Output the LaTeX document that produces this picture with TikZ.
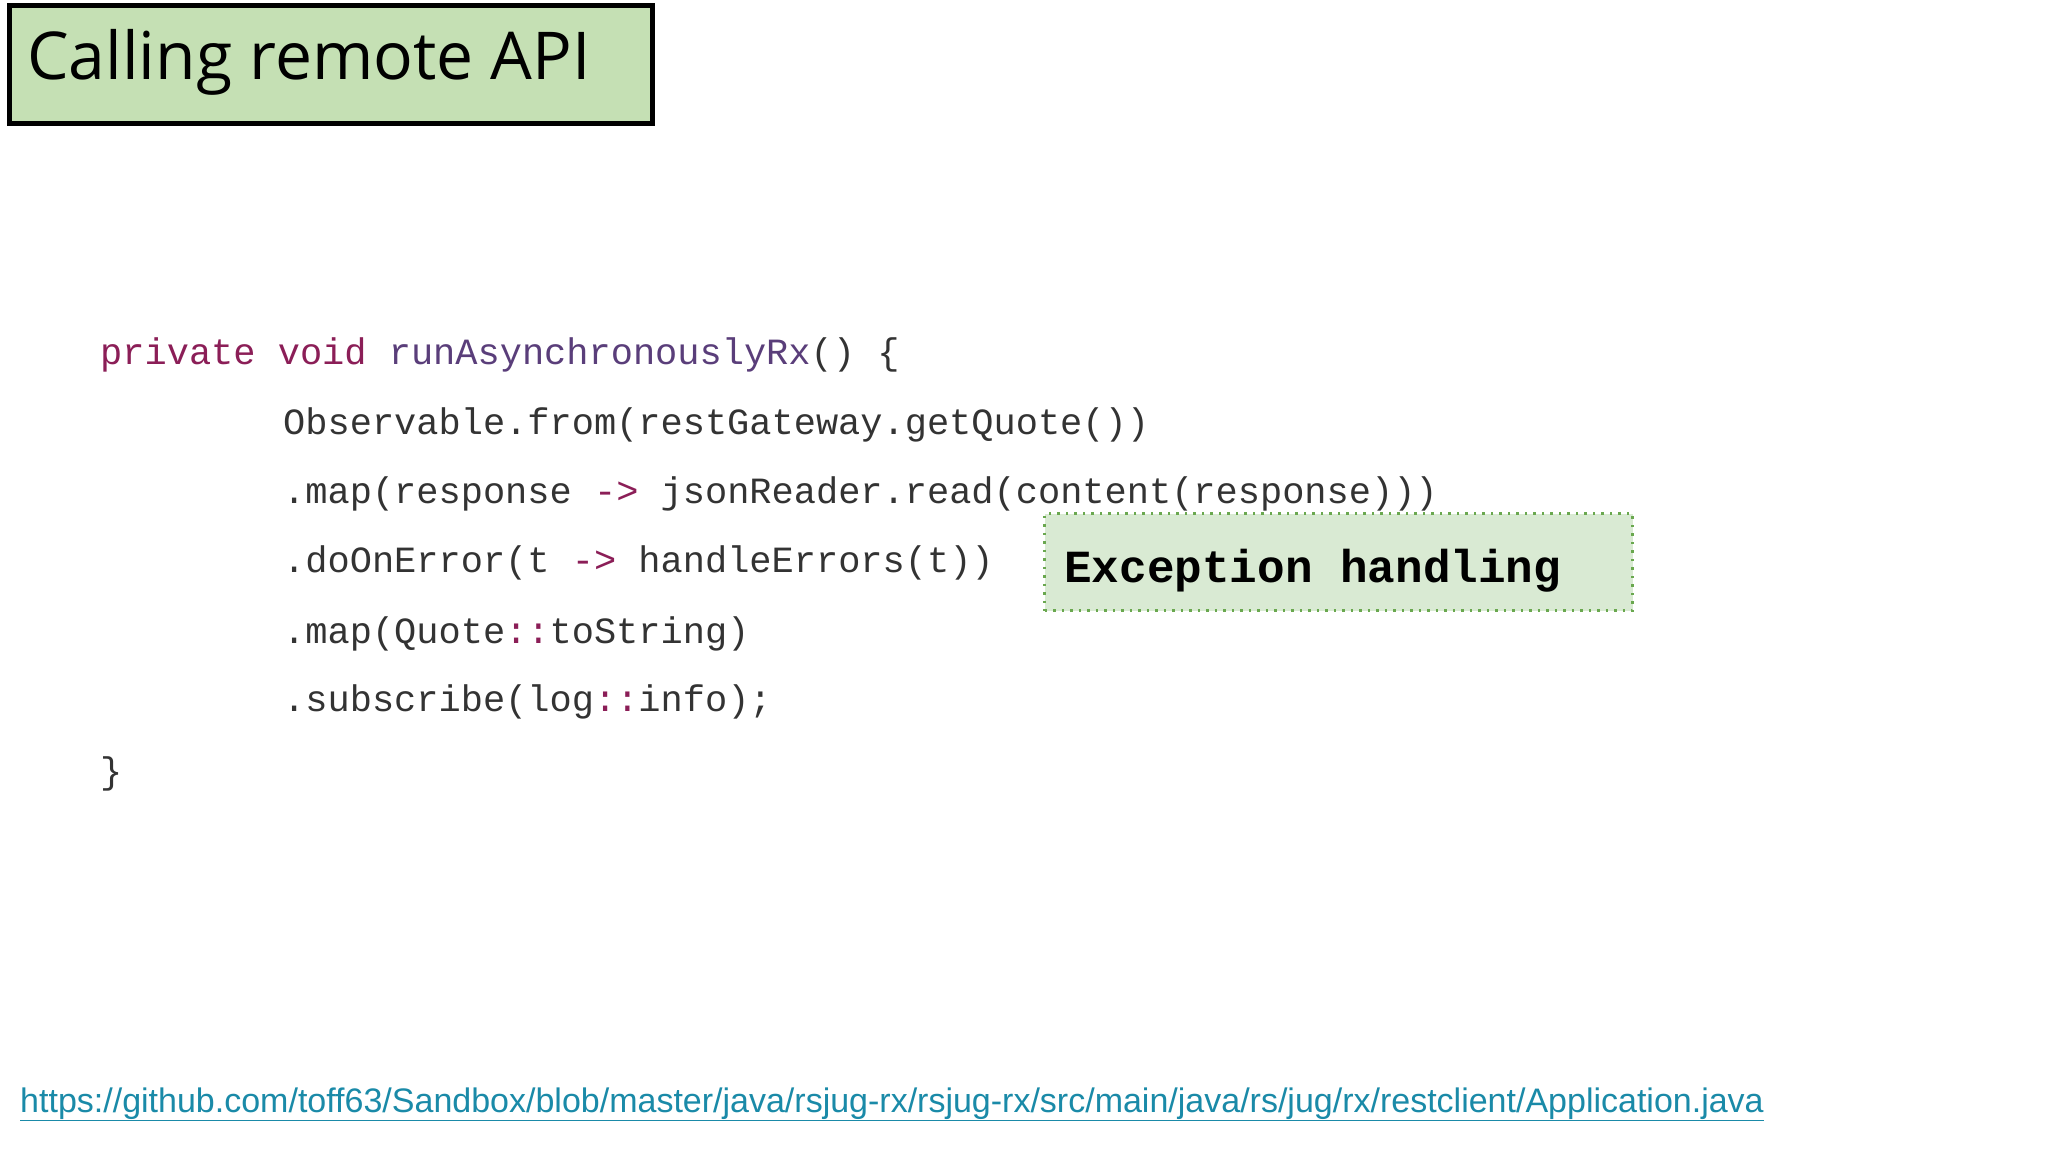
\documentclass[tikz,border=0pt]{standalone}
\usepackage{fontspec}
\setmainfont{Open Sans}
\setsansfont{Liberation Sans}
\setmonofont{Liberation Mono}
\definecolor{tgreen}{HTML}{C5E0B4}
\definecolor{egreen}{HTML}{D9EAD3}
\definecolor{edot}{HTML}{6AA84F}
\definecolor{kw}{HTML}{8B1E57}
\definecolor{meth}{HTML}{5A3E7A}
\definecolor{code}{HTML}{333333}
\definecolor{link}{HTML}{1A8AA8}
\begin{document}
\begin{tikzpicture}[x=1pt,y=-1pt,
  codeline/.style={anchor=base west,inner sep=0pt,text=code,font=\fontsize{37}{40}\selectfont\ttfamily}]
\useasboundingbox[fill=white] (0,0) rectangle (2048,1152);
\node[draw=black,line width=5pt,fill=tgreen,minimum width=643pt,minimum height=118pt,anchor=north west,inner sep=0pt] (title) at (7,3) {};
\node[anchor=west,inner sep=0pt,font=\fontsize{66}{72}\selectfont] (tt) at (27,62) {Calling remote API};
\node[codeline] (l1) at (100,364) {\textcolor{kw}{private void} \textcolor{meth}{runAsynchronouslyRx}() \{};
\node[codeline] (l2) at (283,434) {Observable.from(restGateway.getQuote())};
\node[codeline] (l3) at (283,503) {.map(response \textcolor{kw}{->} jsonReader.read(content(response)))};
\node[codeline] (l4) at (283,572) {.doOnError(t \textcolor{kw}{->} handleErrors(t))};
\node[codeline] (l5) at (283,643) {.map(Quote\textcolor{kw}{::}toString)};
\node[codeline] (l6) at (283,711) {.subscribe(log\textcolor{kw}{::}info);};
\node[codeline] (l7) at (100,783) {\}};
\node[draw=edot,dash pattern=on 2.5pt off 6pt,line width=3pt,fill=egreen,minimum width=588pt,minimum height=97pt,anchor=north west,inner sep=0pt] (exc) at (1043,512) {};
\node[anchor=base west,inner sep=0pt,font=\fontsize{46}{50}\selectfont\ttfamily\bfseries] (et) at (1064,582) {Exception handling};
\node[anchor=base west,inner sep=0pt,text=link,font=\fontsize{34}{38}\selectfont\sffamily] (url) at (20,1112) {\underline{https://github.com/toff63/Sandbox/blob/master/java/rsjug-rx/rsjug-rx/src/main/java/rs/jug/rx/restclient/Application.java}};
\end{tikzpicture}
\end{document}
